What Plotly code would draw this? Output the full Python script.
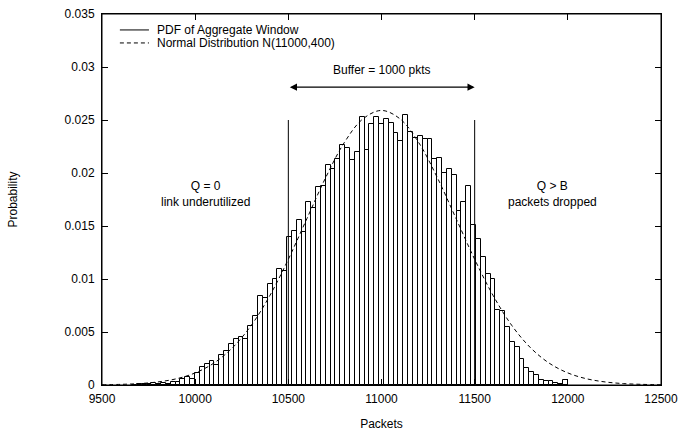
import plotly.graph_objects as go

# ---- data ----
bin_width = 26
bin_centers = [11000 + bin_width * k for k in range(-51, 39)]
pdf_values = [
    0.00003, 0.00005, 0.0001, 0.0001, 0.0002, 0.0001, 0.0002, 0.0001, 0.00025, 0.00025,  # k=-51..-42
    0.0006, 0.0008, 0.0006, 0.00116, 0.00167, 0.0020, 0.00227, 0.0019, 0.00283, 0.0032,  # -41..-32
    0.0039, 0.0043, 0.0045, 0.0043, 0.0056, 0.0065, 0.0084, 0.0082, 0.00954, 0.0100,     # -31..-22
    0.0109, 0.0108,                                                                        # -21..-20
    0.0140, 0.01455, 0.0156, 0.0144, 0.0173, 0.0167, 0.0187, 0.0188, 0.0208, 0.0204,     # -19..-10
    0.0213, 0.0226, 0.0224, 0.0212, 0.0220, 0.0253, 0.0222, 0.0246, 0.0253,              # -9..-1
    0.0246, 0.0251, 0.0247, 0.0238, 0.0230, 0.0255, 0.0239, 0.0233, 0.0235, 0.0232,      # 0..9
    0.0232, 0.0213, 0.0214, 0.0200, 0.0204, 0.0198, 0.0164, 0.0173, 0.0188, 0.0151,      # 10..19
    0.01377, 0.01207, 0.01049, 0.00999, 0.00709, 0.00702, 0.00551, 0.00403, 0.00362, 0.00246,  # 20..29
    0.00158, 0.00126, 0.00095, 0.00047, 0.00041, 0.00041, 0.00016, 0.0001, 0.0005,       # 30..38
]

normal_x = [9500, 9600, 9700, 9800, 9900, 10000, 10100, 10200, 10300, 10400, 10500,
            10600, 10700, 10800, 10900, 11000, 11100, 11200, 11300, 11400, 11500,
            11600, 11700, 11800, 11900, 12000, 12100, 12200, 12300, 12400, 12500]
normal_y = [0.00002, 0.00006, 0.00013, 0.00029, 0.00059, 0.00114, 0.00206, 0.00351, 0.00560, 0.00841, 0.01186,
            0.01571, 0.01955, 0.02286, 0.02510, 0.02590, 0.02510, 0.02286, 0.01955, 0.01571, 0.01186,
            0.00841, 0.00560, 0.00351, 0.00206, 0.00114, 0.00059, 0.00029, 0.00013, 0.00006, 0.00002]

x_ticks = [9500, 10000, 10500, 11000, 11500, 12000, 12500]
x_tick_labels = ["9500", "10000", "10500", "11000", "11500", "12000", "12500"]
y_ticks = [0, 0.005, 0.01, 0.015, 0.02, 0.025, 0.03, 0.035]
y_tick_labels = ["0", "0.005", "0.01", "0.015", "0.02", "0.025", "0.03", "0.035"]

legend_labels = ["PDF of Aggregate Window", "Normal Distribution N(11000,400)"]
legend_dashes = ["solid", "4px,3px"]

buffer_lo, buffer_hi = 10500, 11500
buffer_line_top = 0.025
arrow_y = 0.0281

FONT = "Liberation Sans, Arial, Helvetica, sans-serif"

fig = go.Figure()

fig.add_trace(go.Bar(
    x=bin_centers, y=pdf_values, width=bin_width, name=legend_labels[0],
    marker=dict(color="white", line=dict(color="black", width=1)),
    showlegend=False, hoverinfo="skip",
))

fig.add_trace(go.Scatter(
    x=normal_x, y=normal_y, mode="lines", name=legend_labels[1],
    line=dict(color="black", width=1, dash=legend_dashes[1], shape="spline"),
    showlegend=False,
))

# buffer vertical lines
for xv in (buffer_lo, buffer_hi):
    fig.add_trace(go.Scatter(
        x=[xv, xv], y=[0, buffer_line_top], mode="lines",
        line=dict(color="black", width=1), showlegend=False, hoverinfo="skip",
    ))

# invisible trace on a top x axis so ticks also appear along the top edge
fig.add_trace(go.Scatter(x=[None], y=[None], xaxis="x2", showlegend=False, hoverinfo="skip"))

# manual legend (tight row spacing like the original)
legend_rows_y = [0.957, 0.922]
for label, dash, ry in zip(legend_labels, legend_dashes, legend_rows_y):
    fig.add_shape(type="line", xref="paper", yref="paper",
                  x0=0.032, x1=0.084, y0=ry, y1=ry,
                  line=dict(color="black", width=1, dash=dash))
    fig.add_annotation(xref="paper", yref="paper", x=0.094, y=ry, text=label,
                       showarrow=False, xanchor="left", yanchor="middle",
                       font=dict(size=12, color="black", family=FONT))

# plot frame
fig.add_shape(type="rect", xref="paper", yref="paper", x0=0, x1=1, y0=0, y1=1,
              line=dict(color="black", width=1), layer="above")

fig.add_annotation(
    x=buffer_hi, y=arrow_y, ax=buffer_lo, ay=arrow_y,
    xref="x", yref="y", axref="x", ayref="y",
    showarrow=True, arrowhead=2, arrowside="end+start", arrowsize=1.2,
    arrowwidth=1.2, arrowcolor="black", text="",
)
fig.add_annotation(x=11000, y=0.0297, text="Buffer = 1000 pkts", showarrow=False,
                   font=dict(size=12, color="black", family=FONT))
fig.add_annotation(x=10053, y=0.0180, text="Q = 0<br>link underutilized", showarrow=False,
                   font=dict(size=12, color="black", family=FONT), align="center")
fig.add_annotation(x=11920, y=0.0180, text="Q &gt; B<br>packets dropped", showarrow=False,
                   font=dict(size=12, color="black", family=FONT), align="center")

axis_common = dict(
    showline=True, linecolor="black", linewidth=1, mirror="ticks",
    ticks="inside", ticklen=6, tickcolor="black", showgrid=False, zeroline=False,
    tickfont=dict(size=12, color="black", family=FONT), automargin=False,
    ticklabeloverflow="allow",
)

fig.update_xaxes(range=[9500, 12500], tickvals=x_ticks, ticktext=x_tick_labels,
                 ticklabelstandoff=3,
                 title=dict(text="Packets", font=dict(size=12, color="black", family=FONT), standoff=14),
                 **axis_common)
fig.update_yaxes(range=[0, 0.035], tickvals=y_ticks, ticktext=y_tick_labels,
                 ticklabelstandoff=4,
                 title=dict(text="Probability", font=dict(size=12, color="black", family=FONT), standoff=44),
                 **axis_common)

fig.update_layout(
    width=682, height=435,
    margin=dict(l=102, r=21, t=14, b=50, autoexpand=False),
    plot_bgcolor="white", paper_bgcolor="white",
    bargap=0,
    showlegend=False,
    font=dict(family=FONT, color="black", size=12),
    xaxis2=dict(overlaying="x", side="top", range=[9500, 12500], tickvals=x_ticks,
                showticklabels=False, ticks="inside", ticklen=6, tickcolor="black",
                showgrid=False, zeroline=False, showline=False, automargin=False),
)

fig.write_html(
    "out.html",
    config={"displayModeBar": False},
    post_script="document.body.style.margin='0px';document.body.style.overflow='hidden';",
)
